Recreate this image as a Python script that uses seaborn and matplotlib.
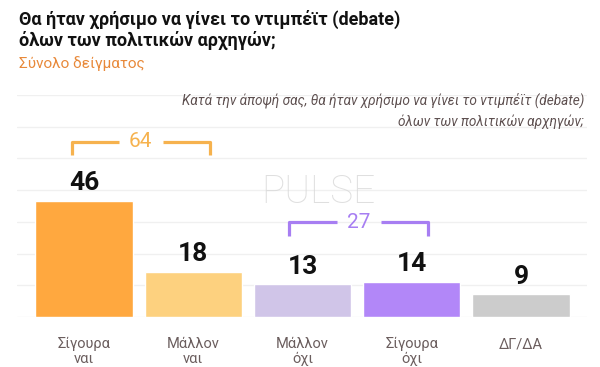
import matplotlib
matplotlib.use("Agg")
import matplotlib.pyplot as plt
import seaborn as sns
import numpy as np
import pandas as pd

# datos
categorias = ["Σίγουρα\nναι", "Μάλλον\nναι", "Μάλλον\nόχι", "Σίγουρα\nόχι", "ΔΓ/ΔΑ"]
valores = [46, 18, 13, 14, 9]
colores = ["#FFA83F", "#FDD17F", "#D0C5E8", "#B287F8", "#CCCCCC"]
suma_si = 64
suma_no = 27

titulo = "Θα ήταν χρήσιμο να γίνει το ντιμπέϊτ (debate)\nόλων των πολιτικών αρχηγών;"
subtitulo = "Σύνολο δείγματος"
pregunta = "Κατά την άποψή σας, θα ήταν χρήσιμο να γίνει το ντιμπέϊτ (debate)\nόλων των πολιτικών αρχηγών;"

sns.set_style("white")
plt.rcParams["font.family"] = ["Roboto", "DejaVu Sans"]

W, H = 600, 367
fig = plt.figure(figsize=(6, 3.67), dpi=100)

def fx(px):
    return px / W

def fy(py):
    return 1 - py / H

# ejes: de x=17 a 587 px, de y=95 a 317 px
ax = fig.add_axes([fx(17), fy(317), fx(570), (317 - 95) / H])

df = pd.DataFrame({"cat": categorias, "val": valores})
sns.barplot(data=df, x="cat", y="val", hue="cat", palette=colores,
            legend=False, width=0.89, saturation=1, ax=ax, zorder=3)

escala = 109.25
xmin = -(84 - 17) / escala
ax.set_xlim(xmin, xmin + 570 / escala)
ymax = 88
ax.set_ylim(0, ymax)
ax.set_yticks(np.linspace(0, ymax, 8))
ax.yaxis.grid(True, color="#F0F0F0", linewidth=1, zorder=0)
ax.tick_params(axis="y", left=False, labelleft=False)
ax.tick_params(axis="x", bottom=False, pad=11)
ax.set_xlabel("")
ax.set_ylabel("")
for s in ax.spines.values():
    s.set_visible(False)
for lbl in ax.get_xticklabels():
    lbl.set_color("#6B5E5E")
    lbl.set_fontsize(10.5)
    lbl.set_va("top")
    lbl.set_linespacing(1.05)

# etiquetas de valor
for i, v in enumerate(valores):
    ax.text(i, v + 2.2, str(v), ha="center", va="bottom", fontsize=19,
            fontweight="bold", color="#111111", zorder=4)

# corchetes
def corchete(x0, x1, y, texto, color):
    alto = 5.2
    gap = 0.2
    ax.plot([x0, x0, (x0 + x1) / 2 - gap], [y - alto, y, y], color=color,
            lw=2.3, solid_capstyle="butt", clip_on=False, zorder=4)
    ax.plot([(x0 + x1) / 2 + gap, x1, x1], [y, y, y - alto], color=color,
            lw=2.3, solid_capstyle="butt", clip_on=False, zorder=4)
    ax.text((x0 + x1) / 2, y, texto, ha="center", va="center", fontsize=15,
            color=color, zorder=4)

corchete(-0.11, 1.15, 69.5, str(suma_si), "#F6B24E")
corchete(1.88, 3.15, 37.5, str(suma_no), "#A77EF2")

# marca de agua
fig.text(fx(318), fy(192), "PULSE", ha="center", va="center", fontsize=28,
         color="#D8D8D8", fontweight="light", alpha=0.8)

# textos
fig.text(fx(19), fy(10), titulo, ha="left", va="top", fontsize=13,
         fontweight="bold", color="#111111", linespacing=1.1)
fig.text(fx(19), fy(56), subtitulo, ha="left", va="top", fontsize=11,
         color="#E8893A")
fig.text(fx(584), fy(92), pregunta, ha="right", va="top", fontsize=9.8,
         style="italic", color="#5E5050", linespacing=1.6, multialignment="right")

fig.savefig("out.png", dpi=100, facecolor="white")
plt.close(fig)
